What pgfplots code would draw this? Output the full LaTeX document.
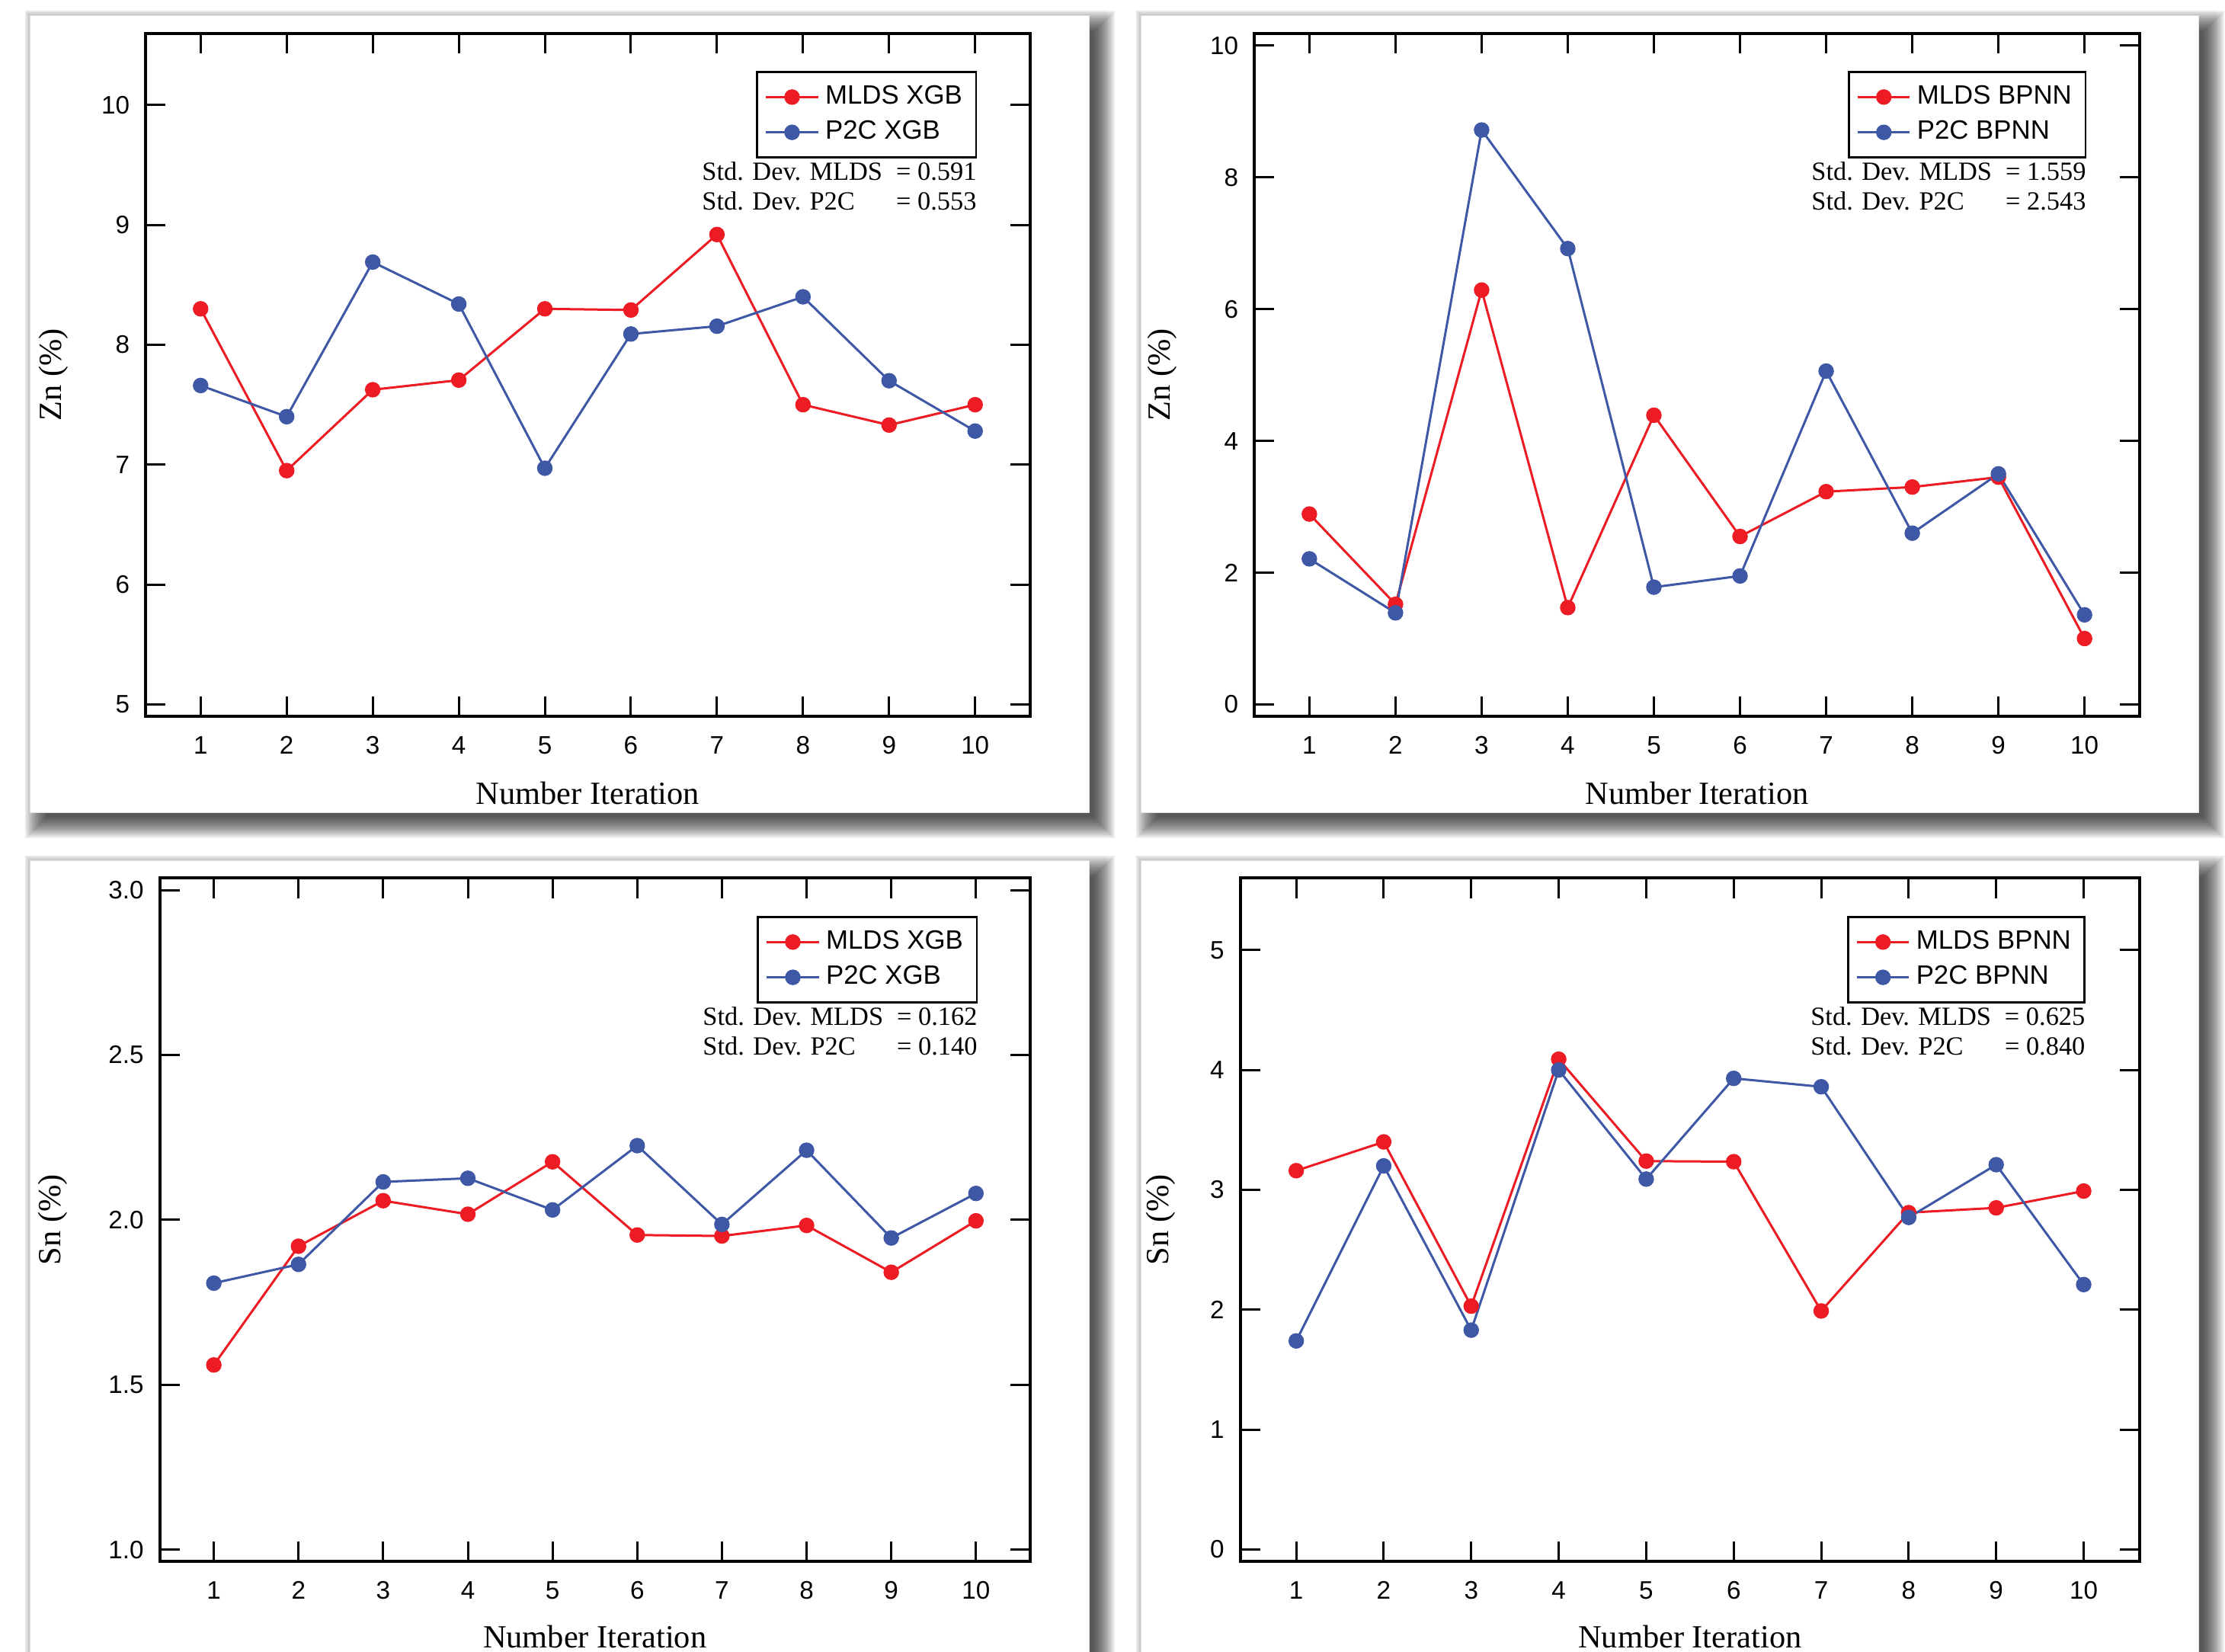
\documentclass[border=0pt]{standalone}
\usepackage{fontspec}
\setmainfont{Liberation Serif}
\setsansfont{Liberation Sans}
\usepackage{pgfplots}
\pgfplotsset{compat=1.18}
\definecolor{mred}{RGB}{237,28,36}
\definecolor{mblue}{RGB}{62,88,166}

\pgfplotsset{
  panel/.style={
    scale only axis,
    anchor=south west,
    xmin=0.36, xmax=10.64,
    xtick={1,...,10},
    tick align=inside,
    major tick length=6.6pt,
    every tick/.style={black, line width=0.75pt},
    axis line style={line width=1pt},
    /pgf/number format/assume math mode=true,
    tick label style={font=\fontsize{8.3}{9}\sffamily},
    xticklabel style={yshift=-3pt},
    yticklabel style={xshift=-1.7pt},
    xlabel={Number Iteration},
    label style={font=\fontsize{10.6}{12}\selectfont},
    legend cell align=left,
    legend style={at={(0.94,0.945)}, anchor=north east, draw=black, line width=0.7pt,
      inner xsep=2.5pt, inner ysep=2.5pt, font=\fontsize{8.7}{10}\sffamily},
    every axis plot/.append style={line width=0.75pt, mark=*, mark size=2.4pt,
      mark options={solid, line width=0.3pt}},
  },
}
\newcommand\card[4]{%
  \fill[black,opacity=0.03] ({#1-6},{#2-6}) rectangle ({#3+24},{#4+24});
  \foreach \e in {20,18,...,-8} {\fill[black,opacity=0.065] ({#1+14-\e},{#2+14-\e}) rectangle ({#3+14+\e},{#4+14+\e});}
  \fill[white] (#1,#2) rectangle (#3,#4);
  \draw[gray!25, line width=0.2pt] (#1,#2) rectangle (#3,#4);
}
\newcommand\stddev[2]{%
  \node[anchor=north east, inner sep=0pt, font=\fontsize{8.6}{9.75}\selectfont] at (rel axis cs:0.94,0.8165)
  {\begin{tabular}{@{}l@{\hspace{4.5pt}}l@{}}Std. Dev. MLDS & = #1\\ Std. Dev. P2C & = #2\end{tabular}};
}

\begin{document}
\begin{tikzpicture}
\begin{scope}[x=0.25pt,y=-0.25pt]
  \card{39}{20}{1429}{1066}
  \card{1497}{20}{2885}{1066}
  \card{39}{1129}{1429}{2260}
  \card{1497}{1129}{2885}{2260}
\end{scope}

% Panel 1: Zn XGB
\begin{axis}[panel,
  at={(47.75pt,-235pt)}, width=290.25pt, height=224.125pt,
  ymin=4.90, ymax=10.60, ytick={5,6,7,8,9,10},
  ylabel={Zn (\%)},
  ylabel style={at={(axis description cs:-0.0956,0.5)}, anchor=base},
  xlabel style={at={(axis description cs:0.5,0)}, anchor=base, yshift=-28.9pt},
]
\addplot[color=mred] coordinates {(1,8.30)(2,6.95)(3,7.625)(4,7.705)(5,8.30)(6,8.29)(7,8.92)(8,7.50)(9,7.33)(10,7.50)};
\addlegendentry{MLDS XGB}
\addplot[color=mblue] coordinates {(1,7.66)(2,7.40)(3,8.69)(4,8.34)(5,6.97)(6,8.09)(7,8.155)(8,8.40)(9,7.70)(10,7.28)};
\addlegendentry{P2C XGB}
\stddev{0.591}{0.553}
\end{axis}

% Panel 2: Zn BPNN
\begin{axis}[panel,
  at={(411.5pt,-235pt)}, width=290.5pt, height=224.125pt,
  ymin=-0.18, ymax=10.19, ytick={0,2,4,6,8,10},
  ylabel={Zn (\%)},
  ylabel style={at={(axis description cs:-0.095,0.5)}, anchor=base},
  xlabel style={at={(axis description cs:0.5,0)}, anchor=base, yshift=-28.9pt},
]
\addplot[color=mred] coordinates {(1,2.89)(2,1.52)(3,6.29)(4,1.47)(5,4.39)(6,2.55)(7,3.23)(8,3.30)(9,3.45)(10,1.00)};
\addlegendentry{MLDS BPNN}
\addplot[color=mblue] coordinates {(1,2.21)(2,1.39)(3,8.72)(4,6.92)(5,1.78)(6,1.95)(7,5.06)(8,2.60)(9,3.50)(10,1.36)};
\addlegendentry{P2C BPNN}
\stddev{1.559}{2.543}
\end{axis}

% Panel 3: Sn XGB
\begin{axis}[panel,
  at={(52.375pt,-512.3pt)}, width=285.6pt, height=224.2pt,
  ymin=0.964, ymax=3.036, ytick={1.0,1.5,2.0,2.5,3.0},
  yticklabel style={/pgf/number format/.cd, fixed, fixed zerofill, precision=1},
  ylabel={Sn (\%)},
  ylabel style={at={(axis description cs:-0.1134,0.5)}, anchor=base},
  xlabel style={at={(axis description cs:0.5,0)}, anchor=base, yshift=-28.2pt},
]
\addplot[color=mred] coordinates {(1,1.56)(2,1.92)(3,2.058)(4,2.017)(5,2.176)(6,1.954)(7,1.951)(8,1.983)(9,1.841)(10,1.997)};
\addlegendentry{MLDS XGB}
\addplot[color=mblue] coordinates {(1,1.808)(2,1.865)(3,2.115)(4,2.126)(5,2.03)(6,2.225)(7,1.986)(8,2.211)(9,1.945)(10,2.08)};
\addlegendentry{P2C XGB}
\stddev{0.162}{0.140}
\end{axis}

% Panel 4: Sn BPNN
\begin{axis}[panel,
  at={(406.9pt,-512.3pt)}, width=295.1pt, height=224.2pt,
  ymin=-0.10, ymax=5.60, ytick={0,1,2,3,4,5},
  ylabel={Sn (\%)},
  ylabel style={at={(axis description cs:-0.0796,0.5)}, anchor=base},
  xlabel style={at={(axis description cs:0.5,0)}, anchor=base, yshift=-28.2pt},
]
\addplot[color=mred] coordinates {(1,3.16)(2,3.40)(3,2.03)(4,4.09)(5,3.24)(6,3.235)(7,1.99)(8,2.81)(9,2.85)(10,2.99)};
\addlegendentry{MLDS BPNN}
\addplot[color=mblue] coordinates {(1,1.74)(2,3.20)(3,1.83)(4,4.00)(5,3.09)(6,3.93)(7,3.86)(8,2.77)(9,3.21)(10,2.21)};
\addlegendentry{P2C BPNN}
\stddev{0.625}{0.840}
\end{axis}

\pgfresetboundingbox
\useasboundingbox (0pt,0pt) rectangle (730pt,-541.75pt);
\end{tikzpicture}
\end{document}
